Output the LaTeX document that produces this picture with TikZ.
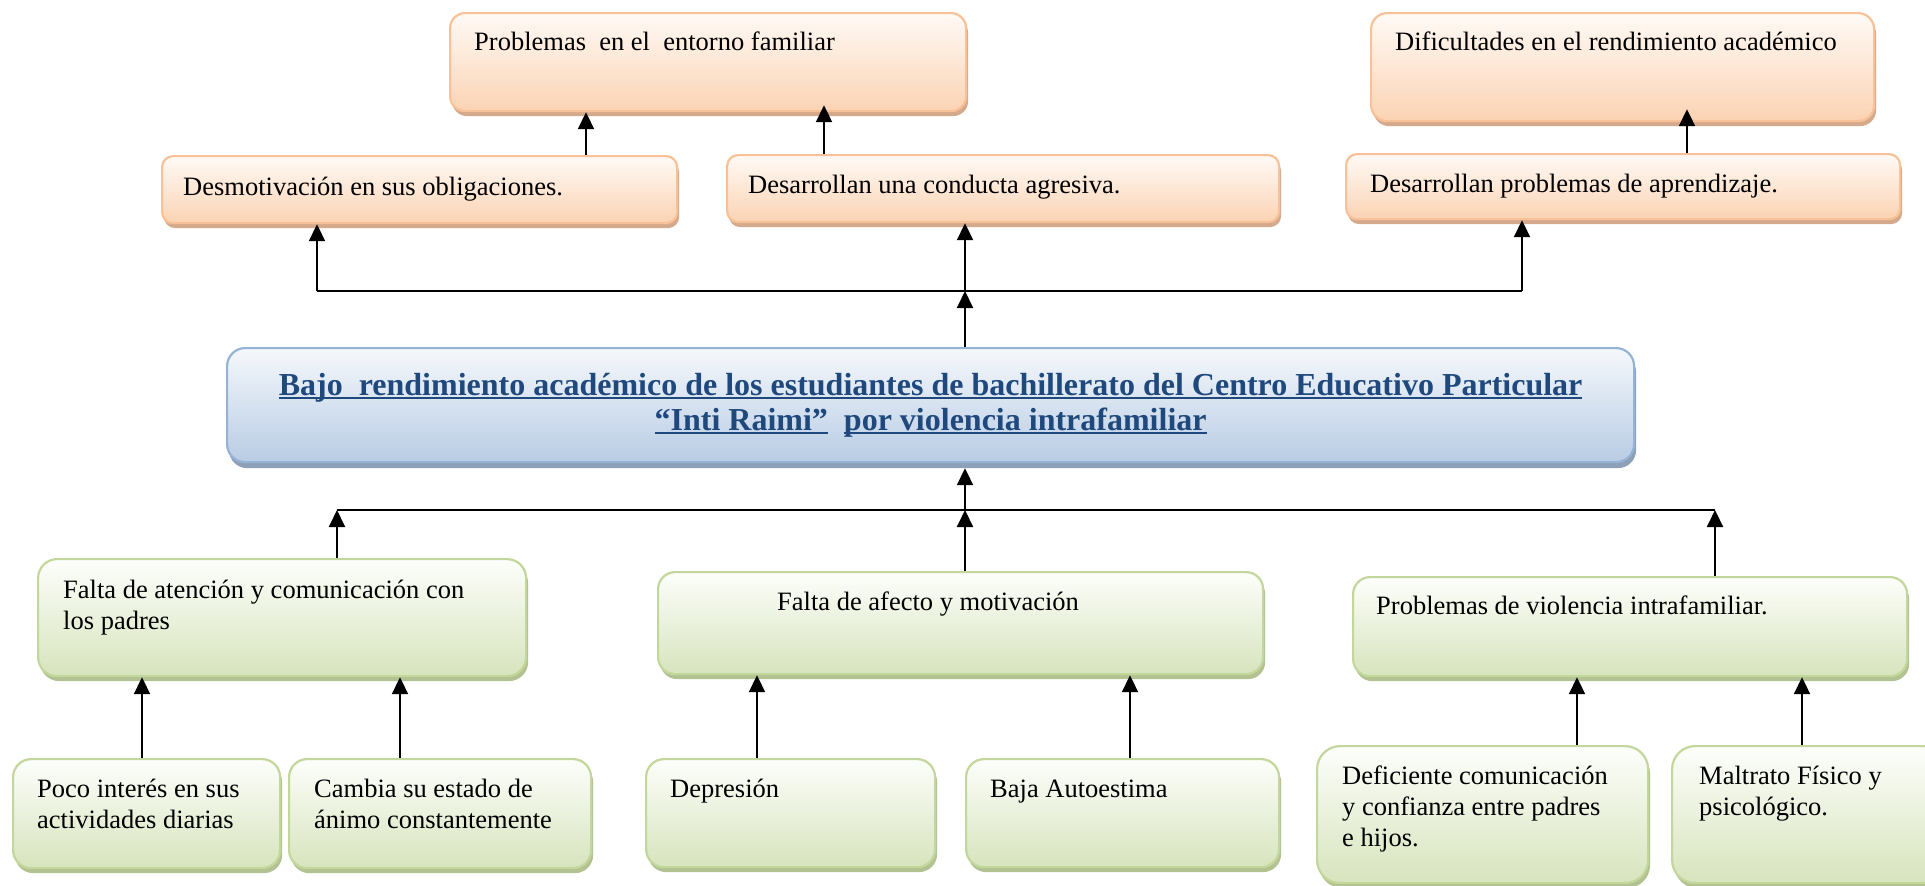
\documentclass[tikz,border=0pt]{standalone}
\usepackage{fontspec}
\setmainfont{Liberation Serif}
\usetikzlibrary{arrows.meta,shadows,calc}
\definecolor{orB}{HTML}{F9C197}
\definecolor{orT}{HTML}{FFFAF6}
\definecolor{orF}{HTML}{FBD3B3}
\definecolor{orS}{HTML}{D5AA8C}
\definecolor{grB}{HTML}{C3D69B}
\definecolor{grT}{HTML}{FDFEFB}
\definecolor{grF}{HTML}{D7E4BD}
\definecolor{grS}{HTML}{B2C290}
\definecolor{blB}{HTML}{95B3D7}
\definecolor{blT}{HTML}{F5F8FC}
\definecolor{blF}{HTML}{B8CCE4}
\definecolor{blS}{HTML}{8EA0B8}
\definecolor{titleblue}{HTML}{1F497D}
\newlength\ulwd
\newcommand\ulx[1]{\settowidth{\ulwd}{#1}\rlap{\rule[-3.8pt]{\ulwd}{2.4pt}}#1}
\begin{document}
\begin{tikzpicture}[x=1pt,y=-1pt,
  box/.style={draw, line width=2.2pt, anchor=north west, inner sep=0pt},
  obox/.style={box, draw=orB, top color=orT, bottom color=orF,
    drop shadow={shadow xshift=2pt,shadow yshift=-5pt,opacity=1,fill=orS}},
  gbox/.style={box, draw=grB, top color=grT, bottom color=grF,
    drop shadow={shadow xshift=2pt,shadow yshift=-5pt,opacity=1,fill=grS}},
  bbox/.style={box, draw=blB, top color=blT, bottom color=blF,
    drop shadow={shadow xshift=2pt,shadow yshift=-6pt,opacity=1,fill=blS}},
  lbl/.style={anchor=base west, inner sep=0pt, align=left,
    font=\fontsize{26.5pt}{31pt}\selectfont},
  arr/.style={line width=2pt, -{Triangle[length=17pt,width=16pt]}},
  link/.style={line width=1.6pt}]
\useasboundingbox (0,0) rectangle (1925,886);

% top row (effects)
\node[obox, minimum width=516pt, minimum height=98pt, rounded corners=15pt] (p1) at (449,12) {};
\node[obox, minimum width=503pt, minimum height=108pt, rounded corners=16pt] (p2) at (1370,12) {};
\node[obox, minimum width=515pt, minimum height=67pt, rounded corners=11pt] (d1) at (161,155) {};
\node[obox, minimum width=552pt, minimum height=67pt, rounded corners=11pt] (d2) at (726,154) {};
\node[obox, minimum width=554pt, minimum height=65pt, rounded corners=11pt] (d3) at (1345,153) {};

\node[lbl] (p1t) at (474,50) {Problemas\ \ en el\ \ entorno familiar};
\node[lbl] (p2t) at (1395,50) {Dificultades en el rendimiento académico};
\node[lbl] (d1t) at (183,195) {Desmotivación en sus obligaciones.};
\node[lbl] (d2t) at (748,193) {Desarrollan una conducta agresiva.};
\node[lbl] (d3t) at (1370,192) {Desarrollan problemas de aprendizaje.};

% central problem
\node[bbox, minimum width=1407pt, minimum height=114pt, rounded corners=18pt,
  align=center, text=titleblue, font=\bfseries\fontsize{32pt}{35pt}\selectfont] (title) at (226,347)
  {\ulx{Bajo\ \ rendimiento académico de los estudiantes de bachillerato del Centro Educativo Particular}\\
   \ulx{“Inti Raimi”}\ \ \ulx{por violencia intrafamiliar}};

% causes
\node[gbox, minimum width=488pt, minimum height=117pt, rounded corners=19pt] (f1) at (37,558) {};
\node[gbox, minimum width=605pt, minimum height=102pt, rounded corners=17pt] (f2) at (657,571) {};
\node[gbox, minimum width=554pt, minimum height=99pt, rounded corners=17pt] (f3) at (1352,576) {};
\node[gbox, minimum width=267pt, minimum height=109pt, rounded corners=18pt] (b1) at (12,758) {};
\node[gbox, minimum width=302pt, minimum height=109pt, rounded corners=18pt] (b2) at (288,758) {};
\node[gbox, minimum width=289pt, minimum height=108pt, rounded corners=18pt] (b3) at (645,758) {};
\node[gbox, minimum width=313pt, minimum height=108pt, rounded corners=18pt] (b4) at (965,758) {};
\node[gbox, minimum width=331pt, minimum height=137pt, rounded corners=23pt] (b5) at (1316,745) {};
\node[gbox, minimum width=275pt, minimum height=137pt, rounded corners=23pt] (b6) at (1671,745) {};

% (multi-line labels: base anchor is the baseline of their last line)
\node[lbl] (f1t) at (63,629) {Falta de atención y comunicación con\\los padres};
\node[lbl] (f2t) at (777,610) {Falta de afecto y motivación};
\node[lbl] (f3t) at (1376,614) {Problemas de violencia intrafamiliar.};
\node[lbl] (b1t) at (37,828) {Poco interés en sus\\actividades diarias};
\node[lbl] (b2t) at (314,828) {Cambia su estado de\\ánimo constantemente};
\node[lbl] (b3t) at (670,797) {Depresión};
\node[lbl] (b4t) at (990,797) {Baja Autoestima};
\node[lbl] (b5t) at (1342,846) {Deficiente comunicación\\y confianza entre padres\\e hijos.};
\node[lbl] (b6t) at (1699,815) {Maltrato Físico y\\psicológico.};

% junctions and connector columns
\coordinate (tL) at (317,291);
\coordinate (tC) at (965,291);
\coordinate (tR) at (1522,291);
\coordinate (bL) at (337,510);
\coordinate (bC) at (965,510);
\coordinate (bR) at (1715,510);
\coordinate (a1) at (586,0);
\coordinate (a2) at (824,0);
\coordinate (a3) at (1687,0);
\coordinate (c1) at (142,0);
\coordinate (c2) at (400,0);
\coordinate (c3) at (757,0);
\coordinate (c4) at (1130,0);
\coordinate (c5) at (1577,0);
\coordinate (c6) at (1802,0);

% effects tree
\draw[link] (tL) -- (tR);
\draw[arr] (tC |- title.north) -- (tC);
\draw[arr] (tL) -- (tL |- d1.south);
\draw[arr] (tC) -- (tC |- d2.south);
\draw[arr] (tR) -- (tR |- d3.south);
\draw[arr] (a1 |- d1.north) -- (a1 |- p1.south);
\draw[arr, shorten >=-7pt] (a2 |- d2.north) -- (a2 |- p1.south);
\draw[arr, shorten >=-13pt] (a3 |- d3.north) -- (a3 |- p2.south);

% causes tree
\draw[link] (bL) -- (bR);
\draw[arr, shorten >=5pt] (bC) -- (bC |- title.south);
\draw[arr] (bL |- f1.north) -- (bL);
\draw[arr] (bC |- f2.north) -- (bC);
\draw[arr] (bR |- f3.north) -- (bR);
\draw[arr] (c1 |- b1.north) -- (c1 |- f1.south);
\draw[arr] (c2 |- b2.north) -- (c2 |- f1.south);
\draw[arr] (c3 |- b3.north) -- (c3 |- f2.south);
\draw[arr] (c4 |- b4.north) -- (c4 |- f2.south);
\draw[arr] (c5 |- b5.north) -- (c5 |- f3.south);
\draw[arr] (c6 |- b6.north) -- (c6 |- f3.south);
\end{tikzpicture}
\end{document}
